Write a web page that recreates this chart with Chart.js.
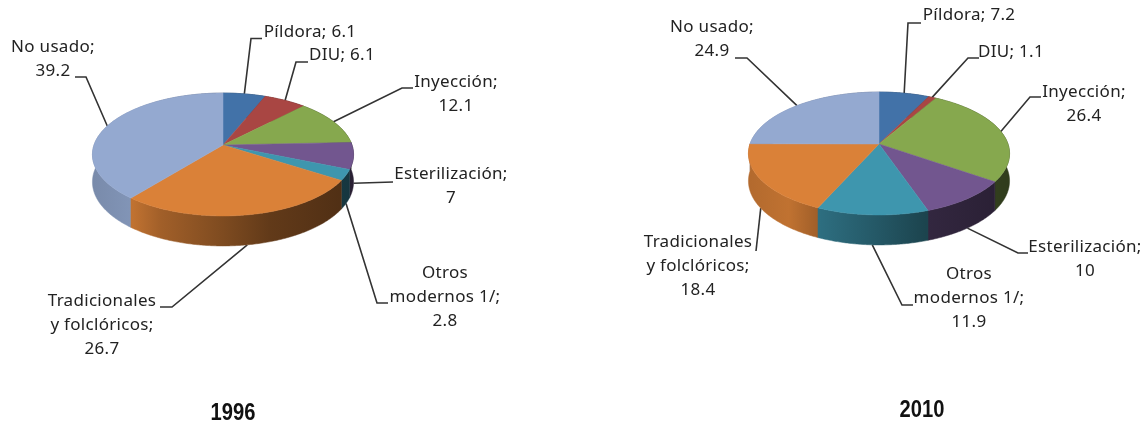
<!DOCTYPE html>
<html>
<head>
<meta charset="utf-8">
<style>
  html, body { margin: 0; padding: 0; background: #fff; }
  body { position: relative; width: 1147px; height: 421px; overflow: hidden; }
  canvas { position: absolute; top: 0; }
</style>
<script src="https://cdn.jsdelivr.net/npm/chart.js@4/dist/chart.umd.min.js"></script>
</head>
<body>
<canvas id="pie1996" width="573" height="421" style="left:0"></canvas>
<canvas id="pie2010" width="574" height="421" style="left:573px"></canvas>
<script>
var categories = ["Píldora", "DIU", "Inyección", "Esterilización", "Otros modernos 1/", "Tradicionales y folclóricos", "No usado"];
var values1996 = [6.1, 6.1, 12.1, 7, 2.8, 26.7, 39.2];
var values2010 = [7.2, 1.1, 26.4, 10, 11.9, 18.4, 24.9];
var colours = ["#4272a8", "#a94643", "#86a84e", "#72568f", "#3e96ae", "#da8138", "#94a9d0"];

// how each label breaks over lines, {v} is the value of that slice
var labelLines = [
  ["Píldora; {v}"],
  ["DIU; {v}"],
  ["Inyección;", "{v}"],
  ["Esterilización;", "{v}"],
  ["Otros", "modernos 1/;", "{v}"],
  ["Tradicionales", "y folclóricos;", "{v}"],
  ["No usado;", "{v}"]
];

// label centre and first line y, in page pixels
var labelSpots1996 = [[310, 32], [342, 55], [456, 82], [451, 174], [445, 273], [102, 301], [53, 47]];
var labelSpots2010 = [[969, 15], [1011, 52], [1084, 92], [1085, 247], [969, 274], [698, 242], [712, 27]];

// leader line bends after the slice edge, in page pixels
var leaders1996 = [
  [[251, 38.5], [262, 38.5]],
  [[296, 62], [308, 62]],
  [[402, 88], [413, 88]],
  [[393, 182]],
  [[377, 303], [388, 303]],
  [[172, 307], [160, 307]],
  [[86, 77], [75, 77]]
];
var leaders2010 = [
  [[908, 23], [921, 23]],
  [[968, 58], [979, 58]],
  [[1030, 97], [1041, 97]],
  [[1018, 253], [1028, 253]],
  [[902, 305], [913, 305]],
  [[756, 251]],
  [[747, 58], [735, 58]]
];

var TILT = 0.465;        // vertical squash of the disc
var PERSP = 0.1545;      // front of the disc is nearer than the back
var DEPTH = 30;          // wall height at the front
var LINE_H = 24;
var LABEL_FONT = '17px "Noto Sans"';
var TITLE_FONT = 'bold 24px "Liberation Sans"';

// wall brightness from left to right of the pie
var wallShade = [[0, 0.82], [0.15, 0.88], [0.26, 0.74], [0.5, 0.58], [0.68, 0.45], [1, 0.36]];

function project(el, angle, down) {
  var y = Math.sin(angle);
  var s = 1 / (1 - PERSP * y);
  return {
    x: el.x + el.outerRadius * Math.cos(angle) * s,
    y: el.y + el.outerRadius * TILT * y * s + (down ? DEPTH * (0.9 + 0.1 * y) : 0)
  };
}

function darken(hex, f) {
  var n = parseInt(hex.slice(1), 16);
  return "rgb(" + Math.round((n >> 16) * f) + "," + Math.round(((n >> 8) & 255) * f) + "," + Math.round((n & 255) * f) + ")";
}

function rimPoints(el, down) {
  var pts = [];
  var steps = Math.max(2, Math.ceil((el.endAngle - el.startAngle) / 0.01));
  for (var i = 0; i <= steps; i++) {
    pts.push(project(el, el.startAngle + (el.endAngle - el.startAngle) * i / steps, down));
  }
  return pts;
}

var pie3d = {
  id: "pie3d",
  beforeDatasetsDraw: function (chart, args, opts) {
    var ctx = chart.ctx;
    var arcs = chart.getDatasetMeta(0).data;

    // leader lines go under the pie
    ctx.save();
    ctx.strokeStyle = "#333";
    ctx.lineWidth = 1.6;
    arcs.forEach(function (el, i) {
      var mid = (el.startAngle + el.endAngle) / 2;
      var p = project(el, mid, Math.sin(mid) > 0.1);
      ctx.beginPath();
      ctx.moveTo(p.x, p.y);
      opts.leaders[i].forEach(function (b) {
        ctx.lineTo(b[0] - opts.offset, b[1]);
      });
      ctx.stroke();
    });
    ctx.restore();

    // walls, back ones first
    var order = arcs.map(function (el, i) { return i; }).sort(function (a, b) {
      return Math.sin((arcs[a].startAngle + arcs[a].endAngle) / 2) - Math.sin((arcs[b].startAngle + arcs[b].endAngle) / 2);
    });
    order.forEach(function (i) {
      var el = arcs[i];
      var left = el.x - el.outerRadius;
      var g = ctx.createLinearGradient(left, 0, left + 2 * el.outerRadius, 0);
      wallShade.forEach(function (st) {
        g.addColorStop(st[0], darken(colours[i], st[1]));
      });
      var top = rimPoints(el, false);
      var bottom = rimPoints(el, true).reverse();
      ctx.beginPath();
      top.concat(bottom).forEach(function (p, k) {
        if (k === 0) ctx.moveTo(p.x, p.y); else ctx.lineTo(p.x, p.y);
      });
      ctx.closePath();
      ctx.fillStyle = g;
      ctx.strokeStyle = g;
      ctx.lineWidth = 0.5;
      ctx.fill();
      ctx.stroke();
    });

    // top of the disc
    arcs.forEach(function (el) {
      ctx.beginPath();
      ctx.moveTo(el.x, el.y);
      rimPoints(el, false).forEach(function (p) { ctx.lineTo(p.x, p.y); });
      ctx.closePath();
      ctx.fillStyle = el.options.backgroundColor;
      ctx.strokeStyle = el.options.backgroundColor;
      ctx.lineWidth = 0.5;
      ctx.fill();
      ctx.stroke();
    });
    return false;
  },
  afterDraw: function (chart, args, opts) {
    var ctx = chart.ctx;
    var vals = chart.data.datasets[0].data;
    ctx.save();
    ctx.textAlign = "center";
    ctx.textBaseline = "middle";
    ctx.fillStyle = "#222";
    ctx.font = LABEL_FONT;
    ctx.letterSpacing = "0.3px";
    labelLines.forEach(function (lines, i) {
      lines.forEach(function (line, k) {
        ctx.fillText(line.replace("{v}", String(vals[i])), opts.spots[i][0] - opts.offset, opts.spots[i][1] + k * LINE_H);
      });
    });
    ctx.letterSpacing = "0px";
    // the title in the original is a narrow bold face
    ctx.fillStyle = "#111";
    ctx.font = TITLE_FONT;
    ctx.translate(opts.titleAt[0] - opts.offset, opts.titleAt[1]);
    ctx.scale(0.84, 1);
    ctx.fillText(opts.title, 0, 0);
    ctx.restore();
  }
};

function makePie(id, values, padding, pieOpts) {
  return new Chart(document.getElementById(id), {
    type: "pie",
    data: {
      labels: categories,
      datasets: [{ data: values, backgroundColor: colours, borderWidth: 0 }]
    },
    options: {
      responsive: false,
      animation: false,
      radius: 129,
      layout: { padding: padding },
      plugins: { legend: { display: false }, tooltip: { enabled: false }, pie3d: pieOpts }
    },
    plugins: [pie3d]
  });
}

var chart1996 = makePie("pie1996", values1996, { right: 127, bottom: 131 }, {
  offset: 0, leaders: leaders1996, spots: labelSpots1996, title: "1996", titleAt: [233, 413]
});
var chart2010 = makePie("pie2010", values2010, { left: 38, bottom: 133 }, {
  offset: 573, leaders: leaders2010, spots: labelSpots2010, title: "2010", titleAt: [922, 410]
});
</script>
</body>
</html>
